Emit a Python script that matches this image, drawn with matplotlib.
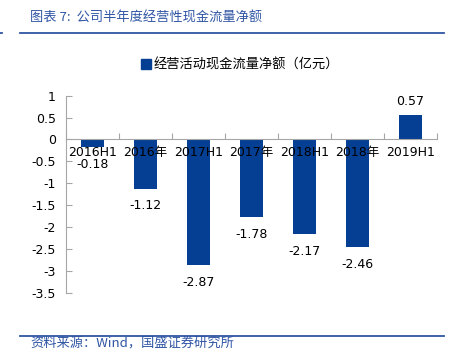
import matplotlib
matplotlib.use('Agg')
import matplotlib.pyplot as plt
from matplotlib.patches import Patch
from matplotlib.lines import Line2D

# 数据
categories = ['2016H1', '2016年', '2017H1', '2017年', '2018H1', '2018年', '2019H1']
values = [-0.18, -1.12, -2.87, -1.78, -2.17, -2.46, 0.57]
yticks = [1, 0.5, 0, -0.5, -1, -1.5, -2, -2.5, -3, -3.5]

title_text = '图表 7:  公司半年度经营性现金流量净额'
legend_text = '经营活动现金流量净额（亿元）'
source_text = '资料来源：Wind，国盛证券研究所'

plt.rcParams['font.family'] = ['DejaVu Sans', 'Noto Sans CJK SC']
bar_color = '#043f94'
line_color = '#2f55a4'
axis_color = '#a6a6a6'
cjk = ['Noto Sans CJK SC', 'DejaVu Sans']

fig = plt.figure(figsize=(4.56, 3.58), dpi=100)
W, H = 456, 358

# 标题和分隔线
fig.text(30 / W, 1 - 18 / H, title_text, color=line_color, fontsize=9.5, style='italic',
         va='center', ha='left', family=cjk)
fig.add_artist(Line2D([20 / W, 444 / W], [1 - 32.5 / H] * 2, color=line_color, lw=1.3))
fig.add_artist(Line2D([0, 2 / W], [1 - 32.5 / H] * 2, color=line_color, lw=1.3))
fig.add_artist(Line2D([20 / W, 444 / W], [1 - 335.5 / H] * 2, color=line_color, lw=1.3))
fig.text(30 / W, 1 - 344 / H, source_text, color=line_color, fontsize=9.5, style='italic',
         va='center', ha='left', family=cjk)

# 主图
ax = fig.add_axes([65.7 / W, 1 - 292.7 / H, (437 - 65.7) / W, (292.7 - 95.7) / H])
x = list(range(len(categories)))
ax.bar(x, values, width=0.44, color=bar_color, zorder=1)
ax.set_axisbelow(False)

ax.set_xlim(-0.5, len(categories) - 0.5)
ax.set_ylim(-3.5, 1)
ax.set_yticks(yticks)
ax.set_yticklabels([f'{v:g}' for v in yticks])

for s in ['top', 'right']:
    ax.spines[s].set_visible(False)
ax.spines['left'].set_color(axis_color)
ax.spines['bottom'].set_color(axis_color)
ax.spines['bottom'].set_position(('data', 0))

ax.set_xticks([i - 0.5 for i in range(len(categories) + 1)])
ax.set_xticklabels([])
ax.set_xticks(x, minor=True)
ax.set_xticklabels(categories, minor=True, fontsize=9)
ax.tick_params(axis='x', which='major', direction='in', length=4, color=axis_color)
ax.tick_params(axis='x', which='minor', length=0, pad=5)
ax.tick_params(axis='y', direction='in', length=4, color=axis_color, labelsize=9, pad=7)

for xi, v in zip(x, values):
    off = 13 if v > 0 else -17
    ax.annotate(f'{v:.2f}', (xi, v), xytext=(0, off * 0.72), textcoords='offset points',
                ha='center', va='center', fontsize=9, zorder=5)

# 图例
fig.legend(handles=[Patch(color=bar_color, label=legend_text)], loc='center',
           bbox_to_anchor=(240 / W, 1 - 65 / H), frameon=False,
           handlelength=0.7, handleheight=0.7, handletextpad=0.2,
           prop={'family': cjk, 'size': 9.5})

fig.savefig('out.png', dpi=100)
